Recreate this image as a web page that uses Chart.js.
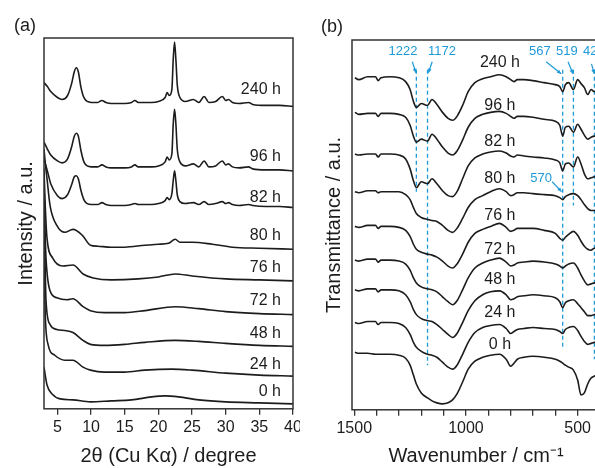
<!DOCTYPE html>
<html>
<head>
<meta charset="utf-8">
<script src="https://cdn.jsdelivr.net/npm/chart.js@4.4.0/dist/chart.umd.min.js"></script>
<style>
  html, body { margin: 0; padding: 0; background: #fff; overflow: hidden; }
  body { width: 595px; height: 468px; position: relative; }
  .panel { position: absolute; top: 0; height: 468px; overflow: hidden; }
  .panel canvas { display: block; }
  #panelA { left: 0; width: 300px; }
  #panelB { left: 300px; width: 295px; }
</style>
</head>
<body>
<div class="panel" id="panelA"><canvas id="xrdChart" width="320" height="468"></canvas></div>
<div class="panel" id="panelB"><canvas id="irChart" width="320" height="468"></canvas></div>
<script>
// ==================== DATI (a) XRD ====================

const xrdTicks = [5, 10, 15, 20, 25, 30, 35, 40];
const xrdLabels = ['240 h', '96 h', '82 h', '80 h', '76 h', '72 h', '48 h', '24 h', '0 h'];
const xrdLabelY = [322, 254, 213, 175, 142, 109, 76, 45, 17];
const xrdLabelAngle = 38.2;

// campioni cristallini (240, 96, 82 h) sulla stessa griglia 2theta
const xrdAngleCryst = [3, 3.5, 4, 5, 5.7, 6.5, 7.1, 7.5, 7.8, 8.1, 8.5, 9, 10, 11, 11.6, 12.2, 13, 14, 15, 16,
  16.5, 17, 18, 19, 20, 21, 21.3, 21.6, 22, 22.2, 22.4, 22.6, 22.8, 23.2, 24, 25.2, 26, 26.8, 27.5, 28.5,
  29.5, 30, 30.4, 31, 32, 33.4, 34, 36, 38, 40];
const xrd240 = [329, 325, 320, 314, 312, 316, 328, 340, 344, 340, 324, 313, 309, 309, 311, 309, 308, 308, 308, 309,
  311, 309, 309, 309, 310, 314, 319, 316, 322, 352, 370, 352, 327, 314, 310, 312, 309, 315, 309, 310,
  315, 311, 312, 309, 308, 309, 307, 306, 306, 305];
const xrd96 = [269, 262, 256, 250, 248, 252, 264, 275, 278, 275, 260, 248, 244, 244, 246, 244, 243, 243, 243, 244,
  246, 244, 244, 244, 245, 249, 254, 251, 257, 287, 302, 287, 262, 249, 245, 247, 244, 250, 244, 245,
  250, 246, 247, 244, 243, 244, 242, 241, 241, 240];
const xrd82 = [252, 240, 227, 215, 212, 216, 226, 234, 235, 232, 220, 210, 206, 206, 208, 206, 205, 205, 205, 206,
  207, 206, 206, 206, 207, 210, 213, 211, 217, 230, 240, 230, 216, 209, 207, 208, 206, 209, 206, 207,
  209, 207, 208, 206, 205, 206, 205, 204, 204, 203];

// campioni amorfi
const xrdAngle80 = [3, 3.2, 3.45, 3.9, 4.9, 6.1, 7.3, 8.7, 9.9, 11, 13, 15, 18, 20, 21.5, 22.5, 23.2, 25, 28, 31, 35, 40];
const xrd80 = [262, 247, 232, 205, 185, 178, 181, 175, 165, 164, 163, 163, 165, 166, 167, 171, 168, 168, 166, 163, 162, 161];
const xrdAngle76 = [3, 3.2, 3.45, 4.3, 5.8, 7.3, 8.8, 10.3, 13, 17, 20, 22.5, 25, 30, 35, 40];
const xrd76 = [242, 202, 172, 152, 144, 145, 136, 132, 130, 131, 133, 136, 134, 131, 130, 129];
const xrdAngle72 = [3, 3.15, 3.3, 3.9, 4.9, 6.4, 7.3, 8.8, 9.9, 12, 15, 18, 22.5, 26, 30, 35, 40];
const xrd72 = [227, 182, 152, 119, 112, 110, 111, 103, 99, 97, 97, 99, 103, 101, 98, 96, 95];
const xrdAngle48 = [3, 3.15, 3.3, 3.9, 4.9, 6.1, 7.3, 8.8, 9.9, 12, 15, 18, 22.5, 26, 30, 35, 40];
const xrd48 = [212, 152, 109, 85, 80, 79, 77, 69, 65, 64, 65, 67, 69, 68, 66, 64, 63];
const xrdAngle24 = [3, 3.1, 3.2, 3.6, 4.6, 6.1, 7.3, 8.8, 9.9, 12, 15, 18, 22, 25, 30, 35, 40];
const xrd24 = [182, 122, 92, 65, 54, 49, 49, 42, 39, 37, 37, 39, 40, 39, 36, 34, 33];
const xrdAngle0 = [3, 3.45, 4.2, 5.4, 7.3, 9.9, 13, 16, 19, 21, 23, 26, 30, 35, 40];
const xrd0 = [42, 24, 15, 10, 9, 7, 8, 9, 12, 13, 12, 9, 7, 6, 5];

// ==================== DATI (b) IR ====================

const irTicks = [1500, 1400, 1300, 1200, 1100, 1000, 900, 800, 700, 600, 500, 400];
const irTickLabels = [1500, 1000, 500];
const irLabels = ['240 h', '96 h', '82 h', '80 h', '76 h', '72 h', '48 h', '24 h', '0 h'];
const irLabelY = [350, 307, 271, 233, 196, 162, 131, 98, 66];
const irLabelWn = 848;

const irWavenumber = [1497, 1480, 1440, 1405, 1393, 1380, 1340, 1300, 1270, 1250, 1235, 1222, 1200, 1172, 1152, 1130,
  1105, 1080, 1060, 1040, 1015, 990, 960, 925, 890, 850, 820, 800, 785, 770, 740, 700, 650, 600, 580, 567,
  555, 540, 519, 500, 485, 470, 455, 440, 425, 410, 400];
const ir240 = [335, 333, 336, 336, 332, 335, 336, 335, 331, 323, 311, 305, 309, 307, 313, 308,
  300, 294, 292, 296, 307, 321, 330, 334, 336, 338, 336, 333, 331, 333, 333, 332, 330, 328, 326, 321,
  328, 330, 323, 333, 329, 325, 318, 323, 321, 321, 321];
const ir96 = [300, 298, 299, 299, 296, 299, 299, 298, 295, 287, 276, 270, 273, 271, 278, 273,
  265, 259, 257, 261, 272, 285, 294, 298, 300, 301, 299, 296, 294, 296, 296, 295, 293, 291, 287, 276,
  285, 286, 280, 288, 283, 277, 273, 275, 276, 276, 276];
const ir82 = [258, 257, 258, 258, 255, 258, 258, 257, 253, 243, 231, 224, 230, 228, 233, 228,
  221, 216, 215, 220, 233, 246, 254, 258, 260, 261, 259, 256, 255, 257, 256, 255, 254, 252, 249, 241,
  248, 249, 245, 255, 248, 238, 233, 234, 235, 235, 235];
const ir80 = [220, 219, 221, 221, 219, 220, 220, 220, 217, 212, 204, 198, 194, 192, 191, 190,
  186, 181, 179, 183, 193, 204, 212, 216, 220, 223, 220, 216, 217, 219, 219, 218, 217, 216, 214, 212,
  215, 217, 218, 216, 212, 207, 203, 201, 201, 201, 201];
const ir76 = [185, 184, 186, 186, 183, 185, 185, 184, 181, 175, 167, 162, 159, 157, 156, 154,
  150, 145, 143, 147, 157, 169, 178, 182, 185, 188, 184, 180, 181, 183, 183, 183, 181, 178, 173, 171,
  174, 177, 180, 176, 170, 165, 162, 161, 163, 163, 163];
const ir72 = [151, 150, 152, 152, 149, 151, 151, 150, 147, 141, 133, 128, 124, 122, 121, 119,
  114, 109, 106, 110, 121, 133, 143, 148, 151, 153, 149, 145, 146, 148, 149, 150, 149, 147, 145, 143,
  145, 147, 148, 143, 136, 130, 126, 127, 128, 128, 128];
const ir48 = [121, 120, 122, 122, 119, 121, 121, 120, 116, 109, 101, 96, 92, 90, 89, 86,
  81, 76, 73, 77, 88, 100, 110, 116, 119, 120, 116, 111, 112, 114, 115, 116, 115, 113, 109, 103,
  108, 110, 111, 107, 103, 99, 95, 95, 96, 96, 96];
const ir24 = [88, 87, 89, 89, 86, 88, 88, 87, 83, 76, 68, 63, 59, 56, 55, 53,
  48, 43, 41, 45, 56, 68, 78, 83, 85, 86, 82, 77, 79, 81, 82, 83, 82, 81, 79, 77,
  81, 83, 84, 80, 74, 69, 66, 67, 68, 68, 68];
const ir0 = [58, 57, 57, 56, 56, 56, 56, 55, 52, 45, 35, 26, 17, 12, 9, 7,
  6, 7, 10, 16, 28, 41, 49, 53, 55, 56, 51, 44, 47, 51, 53, 54, 53, 51, 49, 47,
  45, 43, 40, 30, 15, 17, 26, 32, 34, 35, 35];

// bande marcate (linee tratteggiate blu)
const bandWn = [1222, 1172, 567, 519, 425];
const bandTop = [343, 343, 343, 343, 343];
const bandBottom = [220, 45, 63, 206, 51];

// etichette blu con freccia
const annText = ['1222', '1172', '567', '519', '425', '570'];
const annTextWn = [1282, 1107, 669, 548, 427, 664];
const annTextY = [361, 361, 361, 361, 361, 233];
const annFromWn = [1240, 1151, 641, 543, 438, 614];
const annFromY = [351, 351, 351, 351, 349, 230];
const annToWn = [1224, 1168, 574, 521, 426, 572];
const annToY = [340, 340, 339, 339, 339, 220];

const INK = '#1c1c1c';
const BLUE = '#1f9ad8';
const FONT = "'Liberation Sans', Arial, sans-serif";

Chart.defaults.font.family = FONT;
Chart.defaults.color = INK;

function toPoints(xs, ys) {
  return xs.map((x, i) => ({ x: x, y: ys[i] }));
}

function curve(xs, ys) {
  return {
    data: toPoints(xs, ys),
    borderColor: INK,
    borderWidth: 1.6,
    pointRadius: 0,
    cubicInterpolationMode: 'monotone',
    fill: false
  };
}

// cornice, etichette delle curve, lettera del pannello
const decorPlugin = {
  id: 'decor',
  afterDatasetsDraw(chart, args, opts) {
    const { ctx, chartArea: a } = chart;
    const xs = chart.scales.x;
    const ys = chart.scales.y;
    ctx.save();
    ctx.strokeStyle = '#333';
    ctx.lineWidth = 1.5;
    ctx.strokeRect(a.left, a.top, a.right - a.left, a.bottom - a.top);

    ctx.fillStyle = INK;
    ctx.font = '16px ' + FONT;
    ctx.textBaseline = 'middle';
    ctx.textAlign = opts.align;
    opts.labels.forEach((t, i) => {
      ctx.fillText(t, xs.getPixelForValue(opts.labelX), ys.getPixelForValue(opts.labelY[i]));
    });

    ctx.textAlign = 'left';
    ctx.font = '18px ' + FONT;
    ctx.fillText(opts.letter, opts.letterX, opts.letterY);
    ctx.restore();
  }
};

function drawArrow(ctx, x0, y0, x1, y1) {
  ctx.beginPath();
  ctx.moveTo(x0, y0);
  ctx.lineTo(x1, y1);
  ctx.stroke();
  const ang = Math.atan2(y1 - y0, x1 - x0);
  const len = 4.5;
  ctx.beginPath();
  ctx.moveTo(x1, y1);
  ctx.lineTo(x1 - len * Math.cos(ang - 0.45), y1 - len * Math.sin(ang - 0.45));
  ctx.lineTo(x1 - len * Math.cos(ang + 0.45), y1 - len * Math.sin(ang + 0.45));
  ctx.closePath();
  ctx.fill();
}

// annotazioni blu del pannello (b)
const bandPlugin = {
  id: 'bands',
  afterDatasetsDraw(chart) {
    const { ctx } = chart;
    const xs = chart.scales.x;
    const ys = chart.scales.y;
    ctx.save();
    ctx.fillStyle = BLUE;
    ctx.strokeStyle = BLUE;
    ctx.lineWidth = 1.2;
    ctx.font = '13px ' + FONT;
    ctx.textAlign = 'center';
    ctx.textBaseline = 'middle';
    annText.forEach((t, i) => {
      ctx.fillText(t, xs.getPixelForValue(annTextWn[i]), ys.getPixelForValue(annTextY[i]));
      drawArrow(ctx,
        xs.getPixelForValue(annFromWn[i]), ys.getPixelForValue(annFromY[i]),
        xs.getPixelForValue(annToWn[i]), ys.getPixelForValue(annToY[i]));
    });
    ctx.restore();
  }
};

function xAxis(min, max, ticks, labelCb, title, titlePad, reverse) {
  return {
    type: 'linear',
    min: min,
    max: max,
    reverse: reverse,
    afterBuildTicks: (scale) => { scale.ticks = ticks.map(v => ({ value: v })); },
    ticks: {
      autoSkip: false,
      maxRotation: 0,
      padding: 3,
      color: INK,
      font: { size: 16 },
      callback: labelCb
    },
    grid: {
      display: true,
      drawOnChartArea: false,
      drawTicks: true,
      tickLength: 6,
      color: '#333',
      lineWidth: 1.3
    },
    border: { display: false },
    title: {
      display: true,
      text: title,
      color: INK,
      font: { size: 20 },
      padding: titlePad
    }
  };
}

function yAxis(max, title, titlePad) {
  return {
    type: 'linear',
    min: 0,
    max: max,
    ticks: { display: false },
    grid: { display: false, drawTicks: false },
    border: { display: false },
    title: {
      display: true,
      text: title,
      color: INK,
      font: { size: 20 },
      padding: titlePad
    }
  };
}

const commonOptions = {
  responsive: false,
  maintainAspectRatio: false,
  animation: false,
  devicePixelRatio: 1,
  events: []
};

// ==================== (a) XRD ====================
const xrdChart = new Chart(document.getElementById('xrdChart'), {
  type: 'line',
  data: {
    datasets: [
      curve(xrdAngleCryst, xrd240),
      curve(xrdAngleCryst, xrd96),
      curve(xrdAngleCryst, xrd82),
      curve(xrdAngle80, xrd80),
      curve(xrdAngle76, xrd76),
      curve(xrdAngle72, xrd72),
      curve(xrdAngle48, xrd48),
      curve(xrdAngle24, xrd24),
      curve(xrdAngle0, xrd0)
    ]
  },
  options: {
    ...commonOptions,
    layout: { padding: { left: 0, top: 38, right: 27, bottom: 0 } },
    plugins: {
      legend: { display: false },
      tooltip: { enabled: false },
      decor: {
        labels: xrdLabels, labelY: xrdLabelY, labelX: xrdLabelAngle, align: 'right',
        letter: '(a)', letterX: 14, letterY: 26
      }
    },
    scales: {
      x: xAxis(3, 40, xrdTicks, v => String(v), '2\u03B8 (Cu K\u03B1) / degree', { top: 4, bottom: 0 }, false),
      y: yAxis(374, 'Intensity / a.u.', { top: 14, bottom: 6 })
    }
  },
  plugins: [decorPlugin]
});

// ==================== (b) IR ====================
const irDatasets = [
  curve(irWavenumber, ir240),
  curve(irWavenumber, ir96),
  curve(irWavenumber, ir82),
  curve(irWavenumber, ir80),
  curve(irWavenumber, ir76),
  curve(irWavenumber, ir72),
  curve(irWavenumber, ir48),
  curve(irWavenumber, ir24),
  curve(irWavenumber, ir0)
];
bandWn.forEach((wn, i) => {
  irDatasets.push({
    data: [{ x: wn, y: bandTop[i] }, { x: wn, y: bandBottom[i] }],
    borderColor: BLUE,
    borderWidth: 1.3,
    borderDash: [4, 3],
    pointRadius: 0,
    fill: false
  });
});

const irChart = new Chart(document.getElementById('irChart'), {
  type: 'line',
  data: { datasets: irDatasets },
  options: {
    ...commonOptions,
    layout: { padding: { left: 10, top: 40, right: 20, bottom: 0 } },
    plugins: {
      legend: { display: false },
      tooltip: { enabled: false },
      decor: {
        labels: irLabels, labelY: irLabelY, labelX: irLabelWn, align: 'center',
        letter: '(b)', letterX: 21, letterY: 27
      }
    },
    scales: {
      x: xAxis(400, 1510, irTicks, v => (irTickLabels.includes(v) ? String(v) : ''),
        'Wavenumber / cm\u207B\u00B9', { top: 3, bottom: 0 }, true),
      y: yAxis(373, 'Transmittance / a.u.', { top: 12, bottom: 6 })
    }
  },
  plugins: [decorPlugin, bandPlugin]
});
</script>
</body>
</html>
